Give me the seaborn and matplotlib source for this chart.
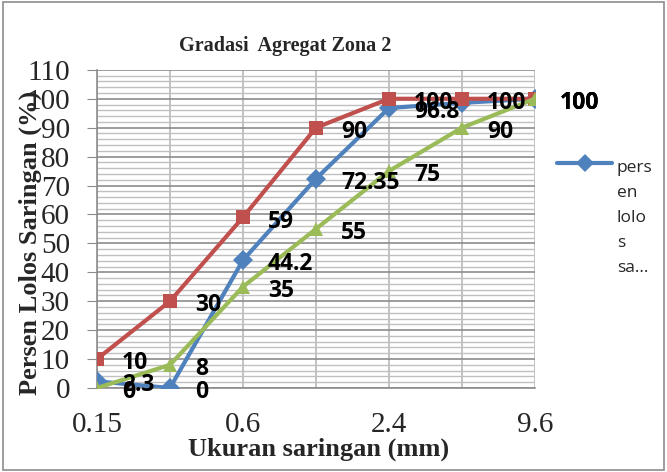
import numpy as np
import pandas as pd
import matplotlib
matplotlib.use("Agg")
import matplotlib.pyplot as plt
from matplotlib.lines import Line2D
from matplotlib.patches import Rectangle
from matplotlib.ticker import MultipleLocator
import seaborn as sns

# sieve sizes (mm) and passing percentages
ukuran = ["0.15", "0.3", "0.6", "1.2", "2.4", "4.8", "9.6"]
lolos = [2.3, 0.0, 44.2, 72.35, 96.8, 98.6, 100]
batas_atas = [10, 30, 59, 90, 100, 100, 100]
batas_bawah = [0, 8, 35, 55, 75, 90, 100]
# which data labels Excel actually shows
label_lolos = [True, True, True, True, True, False, True]
label_atas = [True, True, True, True, True, True, True]
label_bawah = [True, True, True, True, True, True, True]

series = ["persen lolos saringan", "batas atas", "batas bawah"]
colors = ["#4F81BD", "#C0504D", "#9BBB59"]
markers = ["D", "s", "^"]

df = pd.DataFrame({
    "pos": list(range(len(ukuran))) * 3,
    "nilai": lolos + batas_atas + batas_bawah,
    "seri": [s for s in series for _ in ukuran],
    "tampil": label_lolos + label_atas + label_bawah,
})

sns.set_style("white")
fig = plt.figure(figsize=(6.67, 4.72), dpi=100)
ax = fig.add_axes([0.1454, 0.178, 0.6566, 0.674])

sns.lineplot(data=df, x="pos", y="nilai", hue="seri", style="seri",
             palette=colors, markers=markers, dashes=False, linewidth=3,
             markersize=10, markeredgewidth=0, ax=ax, legend=False, zorder=3)

ax.set_xlim(0, len(ukuran) - 1)
ax.set_ylim(0, 110)
ax.yaxis.set_major_locator(MultipleLocator(10))
ax.yaxis.set_minor_locator(MultipleLocator(2))
ax.set_xticks(range(0, len(ukuran), 2))
ax.set_xticklabels(ukuran[::2])
ax.set_xticks(range(len(ukuran)), minor=True)
ax.grid(which="major", axis="y", color="#8c8c8c", lw=1.2)
ax.grid(which="minor", axis="y", color="#c0c0c0", lw=1.0)
ax.grid(which="both", axis="x", color="#b8b8b8", lw=1.2)
ax.set_axisbelow(True)
for side in ["top", "right"]:
    ax.spines[side].set_visible(False)
ax.spines["left"].set_color("#8c8c8c")
ax.spines["bottom"].set_color("#8c8c8c")
ax.spines["left"].set_linewidth(1.2)
ax.spines["bottom"].set_linewidth(1.2)
ax.tick_params(axis="y", which="major", left=True, length=7.5, color="#8c8c8c",
               labelsize=21, pad=12)
ax.tick_params(axis="y", which="minor", left=False)
ax.tick_params(axis="x", which="both", bottom=False, labelsize=21, pad=14)
for lab in ax.get_xticklabels() + ax.get_yticklabels():
    lab.set_fontfamily("Liberation Serif")

ax.set_xlabel("Ukuran saringan (mm)", fontfamily="Liberation Serif",
              fontweight="bold", fontsize=19)
ax.xaxis.set_label_coords(0.505, -0.155)
ax.set_ylabel("Persen Lolos Saringan (%)", fontfamily="Liberation Serif",
              fontweight="bold", fontsize=19)
ax.yaxis.set_label_coords(-0.125, 0.455)
fig.text(0.427, 0.902, "Gradasi  Agregat Zona 2", ha="center", va="center",
         fontfamily="Liberation Serif", fontweight="bold", fontsize=14.5)

# data labels, to the right of each point
for _, r in df[df["tampil"]].iterrows():
    txt = f"{r['nilai']:g}"
    ax.annotate(txt, (r["pos"], r["nilai"]), xytext=(18, -3),
                textcoords="offset points", ha="left", va="center",
                fontsize=16.5, fontweight="bold", fontfamily="Open Sans",
                color="black", annotation_clip=False, zorder=5)

# only the first series shows in the cramped legend
fig.add_artist(Line2D([557 / 667, 612 / 667], [1 - 163 / 472] * 2,
                      color=colors[0], lw=3, transform=fig.transFigure))
fig.add_artist(Line2D([585 / 667], [1 - 163 / 472], color=colors[0],
                      marker="D", markersize=9, markeredgewidth=0,
                      transform=fig.transFigure))
fig.text(617 / 667, 1 - 160 / 472, "pers\nen\nlolo\ns\nsa…", ha="left", va="top",
         fontfamily="Open Sans", fontsize=12.5, linespacing=1.75)

fig.patches.append(Rectangle((0.004, 0.004), 0.992, 0.992, transform=fig.transFigure,
                             fill=False, edgecolor="#8c8c8c", lw=1.2))
fig.savefig("out.png", dpi=100)
